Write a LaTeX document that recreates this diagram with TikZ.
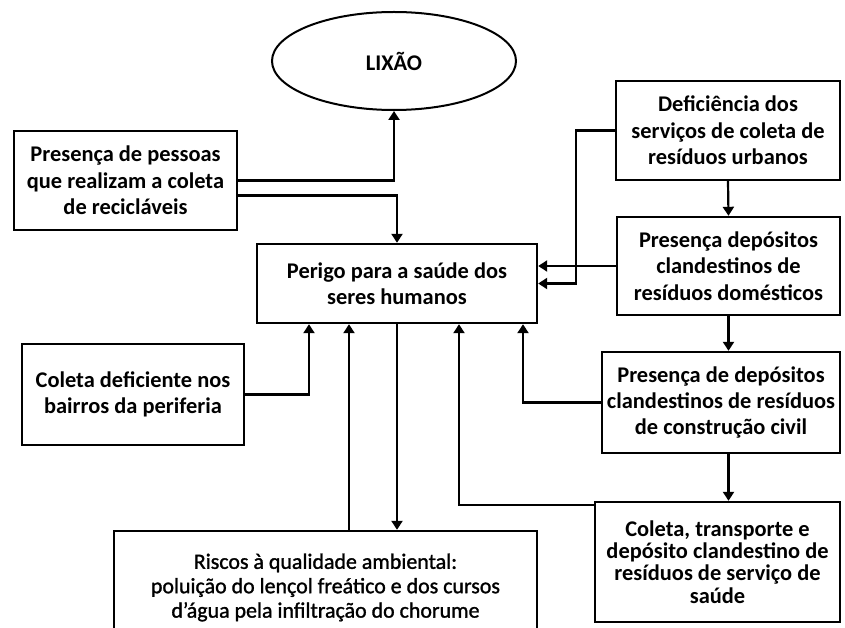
\documentclass[tikz,border=0pt]{standalone}
\usepackage{fontspec}
\setmainfont{Carlito}
\newfontfamily\semibfont{Carlito}[FakeBold=1.3]
\usetikzlibrary{arrows.meta,shapes.geometric}
\begin{document}
\begin{tikzpicture}[x=1bp,y=-1bp,
  txt/.style={font=\bfseries\fontsize{22.5}{26.5}\selectfont},
  box/.style={draw, line width=2.4bp, rectangle, inner sep=0pt, align=center, txt},
  arr/.style={line width=2.2bp, -{Triangle[length=9bp,width=11bp]}},
  ln/.style={line width=2.2bp}]
\clip (0,0) rectangle (845,628);
\node[draw, ellipse, line width=2bp, minimum width=244bp, minimum height=98bp, inner sep=0pt, txt] (L) at (394,61) {LIXÃO};
\node[box, minimum width=223bp, minimum height=99bp] (A) at (125.5,180.5) {Presença de pessoas\\que realizam a coleta\\de recicláveis};
\node[box, minimum width=224bp, minimum height=99bp] (B) at (728,130.5) {Deficiência dos\\serviços de coleta de\\resíduos urbanos};
\node[box, minimum width=280bp, minimum height=79bp] (C) at (397,283.5) {Perigo para a saúde dos\\seres humanos};
\node[box, minimum width=223bp, minimum height=98bp] (D) at (728.5,266) {Presença depósitos\\clandestinos de\\resíduos domésticos};
\node[box, minimum width=222bp, minimum height=101bp] (E) at (133,394.5) {Coleta deficiente nos\\bairros da periferia};
\node[box, minimum width=238bp, minimum height=101bp] (F) at (721,402.5) {Presença de depósitos\\clandestinos de resíduos\\de construção civil};
\node[box, minimum width=245bp, minimum height=120bp, font=\bfseries\fontsize{22.5}{22.5}\selectfont] (G) at (717.5,562) {Coleta, transporte e\\depósito clandestino de\\resíduos de serviço de\\saúde};
\node[box, minimum width=423bp, minimum height=113bp, font=\semibfont\fontsize{22}{24.5}\selectfont] (H) at (325.5,587.5) {Riscos à qualidade ambiental:\\poluição do lençol freático e dos cursos\\d’água pela infiltração do chorume};
% connectors
\draw[arr] (A.east) -| (L.south);
\draw[arr] ([yshift=-15bp]A.east) -| (C.north);
\draw[arr] (B.west) -- ++(-39,0) |- (C.east);
\draw[arr] (B.south) -- (D.north);
\draw[arr] (D.west) -- (D.west -| C.east);
\draw[arr] (D.south) -- (D.south |- F.north);
\draw[arr] (D.south |- F.south) -- (D.south |- G.north);
\draw[arr] (E.east) -| ([xshift=-88bp]C.south);
\draw[arr] ([xshift=-48bp]C.south |- H.north) -- ([xshift=-48bp]C.south);
\draw[arr] (C.south) -- (C.south |- H.north);
\draw[arr] ([yshift=-4bp]G.north west) -| ([xshift=62bp]C.south);
\draw[arr] (F.west) -| ([xshift=126bp]C.south);
\end{tikzpicture}
\end{document}
